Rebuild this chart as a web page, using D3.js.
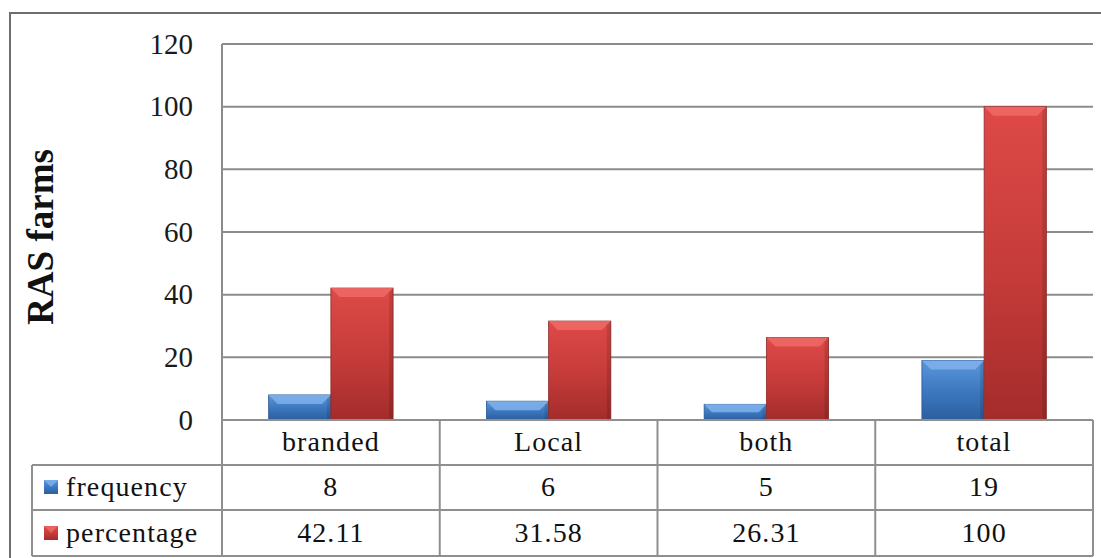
<!DOCTYPE html>
<html><head><meta charset="utf-8">
<script src="https://cdn.jsdelivr.net/npm/d3@7"></script>
<style>body{margin:0;background:#fff}svg{display:block}text{font-family:"Liberation Serif","Times New Roman","DejaVu Serif",serif}</style>
</head><body>
<script>
const categories = ["branded", "Local", "both", "total"];
const seriesNames = ["frequency", "percentage"];
const frequency = [8, 6, 5, 19];
const percentage = [42.11, 31.58, 26.31, 100];
const frequencyLabels = ["8", "6", "5", "19"];
const percentageLabels = ["42.11", "31.58", "26.31", "100"];
const yTicks = [0, 20, 40, 60, 80, 100, 120];

const W = 1101, H = 558;
const svg = d3.select("body").append("svg").attr("width", W).attr("height", H);
const gridColor = "#8c8c8c";

const pLeft = 222, pRight = 1093, pTop = 44, pBottom = 420;
const x = d3.scaleBand().domain(categories).range([pLeft, pRight]).paddingInner(0).paddingOuter(0);
const xs = d3.scaleBand().domain(seriesNames).range([0, x.bandwidth()]).paddingInner(0).paddingOuter(0.75);
const y = d3.scaleLinear().domain([0, 120]).range([pBottom, pTop]);

const defs = svg.append("defs");
const pal = {frequency: ["#5b97dc", "#3b76bd", "#2c5f9e"], percentage: ["#de4a47", "#c43b39", "#a32c2b"]};
seriesNames.forEach(s => {
  const g = defs.append("linearGradient").attr("id", "g-" + s).attr("x1", 0).attr("y1", 0).attr("x2", 0).attr("y2", 1);
  g.append("stop").attr("offset", "0%").attr("stop-color", pal[s][0]);
  g.append("stop").attr("offset", "55%").attr("stop-color", pal[s][1]);
  g.append("stop").attr("offset", "100%").attr("stop-color", pal[s][2]);
});

// outer frame
svg.append("path").attr("d", `M10,${H+5} L10,13 L${W+5},13`).attr("fill", "none").attr("stroke", "#6e6e6e").attr("stroke-width", 2);

// grid lines
svg.append("g").selectAll("line").data(yTicks).join("line")
  .attr("x1", pLeft).attr("x2", pRight).attr("y1", d => y(d)).attr("y2", d => y(d))
  .attr("stroke", gridColor).attr("stroke-width", 2);
svg.append("line").attr("x1", pLeft).attr("x2", pLeft).attr("y1", pTop).attr("y2", pBottom).attr("stroke", gridColor).attr("stroke-width", 2);

// y tick labels
svg.append("g").selectAll("text").data(yTicks).join("text")
  .attr("x", 193).attr("y", d => y(d)).attr("dy", "0.33em").attr("text-anchor", "end")
  .attr("font-size", 29).attr("fill", "#1a1a1a").text(d => d);

svg.append("text").attr("transform", `translate(53,237) rotate(-90)`).attr("text-anchor", "middle")
  .attr("font-size", 37).attr("font-weight", "bold").attr("fill", "#111").text("RAS farms");

// bars
const data = [];
categories.forEach((c, i) => {
  data.push({c, s: "frequency", v: frequency[i]});
  data.push({c, s: "percentage", v: percentage[i]});
});
const bars = svg.append("g").selectAll("g").data(data).join("g");
bars.each(function(d) {
  const g = d3.select(this);
  const x0 = x(d.c) + xs(d.s), w = xs.bandwidth();
  const y0 = y(d.v), h = pBottom - y0;
  g.append("rect").attr("x", x0).attr("y", y0).attr("width", w).attr("height", h)
    .attr("fill", `url(#g-${d.s})`).attr("stroke", d.s === "frequency" ? "#2a5790" : "#8f2a29").attr("stroke-width", 0.8);
  const b = Math.min(9, h / 2);
  g.append("path").attr("d", `M${x0},${y0} L${x0 + w},${y0} L${x0 + w - b},${y0 + b} L${x0 + b},${y0 + b} Z`)
    .attr("fill", d.s === "frequency" ? "#7fb2ec" : "#ee6a66").attr("opacity", 0.85);
  g.append("path").attr("d", `M${x0 + w},${y0} L${x0 + w},${pBottom} L${x0 + w - 4},${pBottom} L${x0 + w - 4},${y0 + 4} Z`)
    .attr("fill", "#000").attr("opacity", 0.12);
});

// data table
const tableLeft = 32, rowsY = [420, 465, 510, 556];
const tg = svg.append("g");
const lineAttrs = sel => sel.attr("stroke", "#8f8f8f").attr("stroke-width", 2);
tg.append("line").attr("x1", pLeft).attr("x2", pRight).attr("y1", rowsY[0]).attr("y2", rowsY[0]).call(lineAttrs);
[1, 2, 3].forEach(r => tg.append("line").attr("x1", tableLeft).attr("x2", pRight).attr("y1", rowsY[r]).attr("y2", rowsY[r]).call(lineAttrs));
tg.append("line").attr("x1", tableLeft).attr("x2", tableLeft).attr("y1", rowsY[1]).attr("y2", rowsY[3]).call(lineAttrs);
categories.forEach(c => tg.append("line").attr("x1", x(c)).attr("x2", x(c)).attr("y1", rowsY[0]).attr("y2", rowsY[3]).call(lineAttrs));
tg.append("line").attr("x1", pRight).attr("x2", pRight).attr("y1", rowsY[0]).attr("y2", rowsY[3]).call(lineAttrs);

const txt = (sel) => sel.attr("font-size", 28).attr("letter-spacing", 1.1).attr("fill", "#111").attr("dy", "0.33em");
tg.selectAll(".cat").data(categories).join("text").attr("class", "cat")
  .attr("x", d => x(d) + x.bandwidth() / 2).attr("y", 442).attr("text-anchor", "middle").call(txt).text(d => d);
tg.selectAll(".fr").data(categories).join("text").attr("class", "fr")
  .attr("x", d => x(d) + x.bandwidth() / 2).attr("y", 487).attr("text-anchor", "middle").call(txt).text((d, i) => frequencyLabels[i]);
tg.selectAll(".pc").data(categories).join("text").attr("class", "pc")
  .attr("x", d => x(d) + x.bandwidth() / 2).attr("y", 533).attr("text-anchor", "middle").call(txt).text((d, i) => percentageLabels[i]);

// legend keys
seriesNames.forEach((s, i) => {
  const cy = i === 0 ? 487 : 533;
  const kx = 44, ks = 14;
  tg.append("rect").attr("x", kx).attr("y", cy - ks / 2).attr("width", ks).attr("height", ks).attr("fill", `url(#g-${s})`);
  tg.append("path").attr("d", `M${kx},${cy - ks / 2} L${kx + ks},${cy - ks / 2} L${kx + ks / 2},${cy} Z`)
    .attr("fill", s === "frequency" ? "#7fb2ec" : "#ee6a66").attr("opacity", 0.8);
  tg.append("text").attr("x", 66).attr("y", cy).attr("text-anchor", "start").call(txt).text(s);
});
</script>
</body></html>
